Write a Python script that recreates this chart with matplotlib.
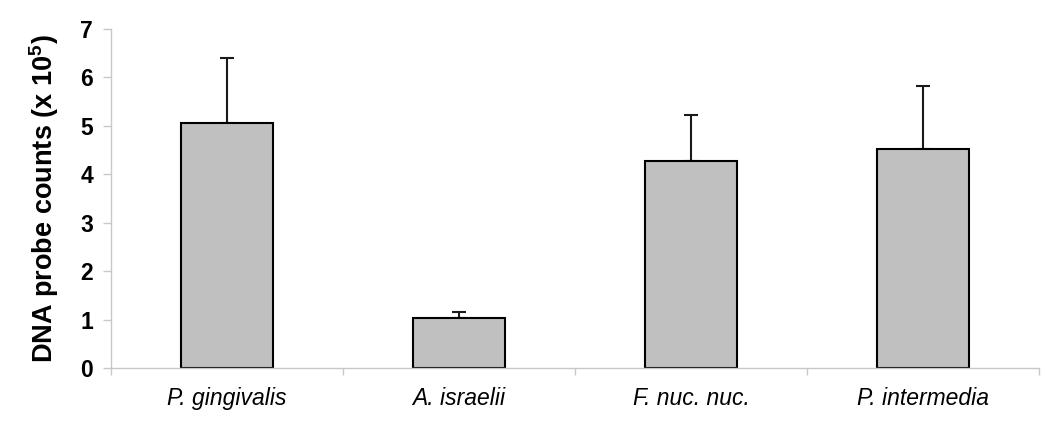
import matplotlib
matplotlib.use("Agg")
import matplotlib.pyplot as plt
import numpy as np

categories = ["P. gingivalis", "A. israelii", "F. nuc. nuc.", "P. intermedia"]
values = [5.06, 1.03, 4.28, 4.53]
upper_err = [1.34, 0.13, 0.95, 1.30]
yticks = [0, 1, 2, 3, 4, 5, 6, 7]

plt.rcParams['font.family'] = ['Liberation Sans', 'DejaVu Sans']
plt.rcParams['mathtext.fontset'] = 'custom'
plt.rcParams['mathtext.rm'] = 'Liberation Sans:bold'
plt.rcParams['mathtext.bf'] = 'Liberation Sans:bold'

fig = plt.figure(figsize=(10.5, 4.23), dpi=100)
ax = fig.add_axes([0.1057, 0.130, 0.8838, 0.8014])

x = np.arange(len(categories))
ax.bar(x, values, width=0.4, color="#c0c0c0", edgecolor="black", linewidth=1.5, zorder=2)
ax.errorbar(x, values, yerr=[np.zeros(len(values)), upper_err], fmt="none",
            ecolor="#1a1a1a", elinewidth=1.5, capsize=4.7, capthick=1.5, zorder=1)

ax.set_xlim(-0.5, len(categories) - 0.5)
ax.set_ylim(0, 7)
ax.set_yticks(yticks)
ax.set_yticklabels([str(t) for t in yticks], fontsize=16.5, fontweight="bold")
ax.set_xticks(x)
ax.set_xticklabels(categories, fontsize=16.5, fontstyle="italic")
ax.tick_params(axis="x", length=0, pad=14)
ax.set_xticks(np.arange(len(categories) + 1) - 0.5, minor=True)
ax.tick_params(axis="x", which="minor", length=5, color="#c8c8c8", width=1)
ax.tick_params(axis="y", length=5.8, color="#c8c8c8", width=1, pad=7)

for s in ["top", "right"]:
    ax.spines[s].set_visible(False)
for s in ["left", "bottom"]:
    ax.spines[s].set_color("#c8c8c8")
    ax.spines[s].set_linewidth(1)

ax.set_ylabel(r"DNA probe counts (x 10$^{5}$)", fontsize=19.5, fontweight="bold", labelpad=14)

fig.savefig("out.png", dpi=100)
